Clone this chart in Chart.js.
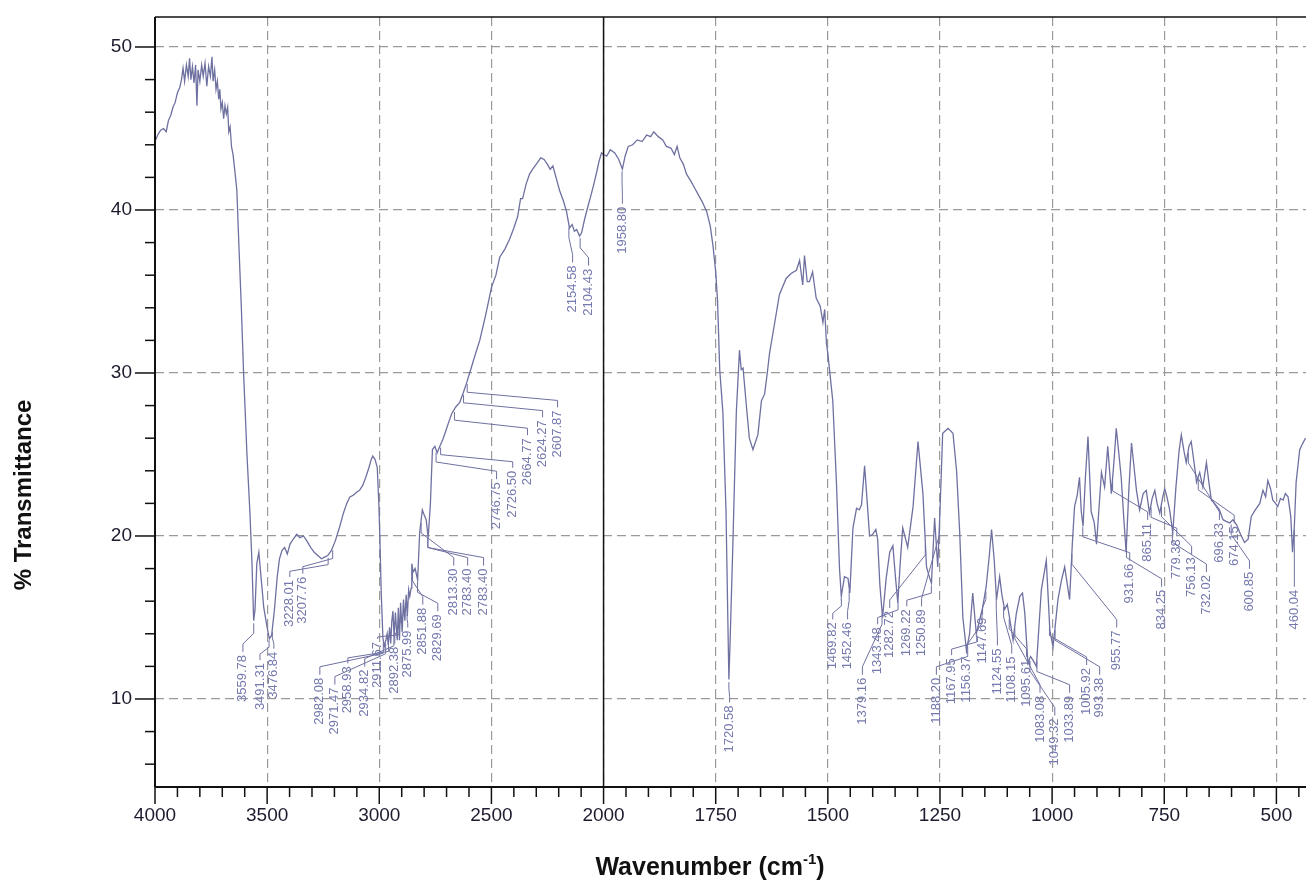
<!DOCTYPE html>
<html>
<head>
<meta charset="utf-8">
<script src="https://cdn.jsdelivr.net/npm/chart.js@4.4.0/dist/chart.umd.min.js"></script>
<style>
  html, body { margin: 0; padding: 0; background: #fff; }
  #irChart { display: block; }
</style>
</head>
<body>
<canvas id="irChart" width="1306" height="882"></canvas>
<script>
// spectrum (cm-1 / %T)
const wavenumbers = [
  4000, 3988, 3975, 3962, 3950, 3940, 3930, 3920, 3910, 3900, 3890, 3882, 3875, 3868, 3860, 3852, 3846, 3840, 3833, 3826,
  3819, 3813, 3808, 3800, 3792, 3785, 3777, 3769, 3761, 3753, 3746, 3741, 3734, 3728, 3722, 3716, 3711, 3706, 3700, 3694,
  3688, 3682, 3676, 3671, 3665, 3659, 3652, 3644, 3635, 3625, 3615, 3605, 3590, 3577, 3568, 3560, 3554, 3546, 3537, 3528,
  3515, 3500, 3490, 3480, 3468, 3455, 3445, 3434, 3422, 3410, 3398, 3384, 3368, 3354, 3338, 3323, 3306, 3290, 3274, 3258,
  3244, 3230, 3214, 3196, 3176, 3160, 3145, 3131, 3116, 3100, 3088, 3074, 3060, 3046, 3036, 3029, 3019, 3009, 3002, 2998,
  2991, 2984, 2978, 2971, 2965, 2960, 2954, 2949, 2944, 2939, 2934, 2928, 2920, 2915, 2910, 2905, 2898, 2892, 2886, 2880,
  2875, 2869, 2864, 2858, 2855, 2849, 2840, 2829, 2820, 2808, 2800, 2791, 2782, 2772, 2763, 2752, 2742, 2730, 2717, 2702,
  2690, 2677, 2660, 2641, 2625, 2608, 2597, 2575, 2552, 2525, 2499, 2480, 2463, 2440, 2419, 2400, 2383, 2370, 2361, 2345,
  2330, 2316, 2295, 2280, 2265, 2250, 2238, 2226, 2212, 2196, 2180, 2165, 2152, 2140, 2130, 2120, 2107, 2098, 2085, 2070,
  2058, 2045, 2031, 2020, 2009, 2000, 1993, 1985, 1975, 1966, 1958, 1952, 1945, 1935, 1925, 1914, 1904, 1895, 1888, 1878,
  1868, 1860, 1850, 1842, 1836, 1830, 1822, 1815, 1806, 1796, 1788, 1780, 1770, 1762, 1756, 1750, 1746, 1741, 1734, 1727,
  1723, 1720.6, 1718, 1712, 1704, 1697, 1693, 1689, 1682, 1675, 1667, 1661, 1656, 1648, 1641, 1635, 1630, 1622, 1608, 1593,
  1582, 1570, 1563, 1556, 1552, 1546, 1541, 1534, 1526, 1517, 1511, 1507, 1503, 1500, 1489, 1481, 1474, 1470, 1463, 1455,
  1451, 1444, 1436, 1430, 1425, 1418, 1412, 1407, 1400, 1393, 1389, 1384, 1378, 1370, 1362, 1355, 1349, 1344, 1338, 1333,
  1322, 1310, 1299, 1288, 1280, 1275, 1269, 1262, 1255, 1250, 1244, 1232, 1221, 1213, 1206, 1199, 1191, 1184, 1177, 1169,
  1162, 1155, 1147, 1140, 1135, 1129, 1124, 1117, 1112, 1106, 1100, 1095, 1087, 1080, 1072, 1066, 1061, 1054, 1048, 1043,
  1035, 1029, 1024, 1013, 1005, 998, 993, 987, 979, 972, 966, 961, 955, 950, 944, 939, 935, 931, 926, 920,
  913, 906, 901, 896, 890, 883, 876, 868, 862, 857, 851, 846, 840, 835, 829, 823, 818, 812, 805, 797,
  790, 783, 777, 771, 766, 760, 754, 749, 744, 738, 731, 724, 717, 712, 706, 701, 695, 690, 684, 678,
  671, 664, 656, 650, 645, 638, 627, 619, 612, 604, 597, 589, 580, 571, 563, 556, 547, 537, 530, 524,
  519, 513, 508, 502, 497, 491, 485, 480, 474, 468, 464, 460, 456, 448, 441, 435
];
const transmittance = [
  44.2, 44.6, 44.9, 45.0, 44.8, 45.5, 45.8, 46.3, 46.6, 47.2, 47.5, 48.0, 48.7, 47.9, 48.9, 48.2, 49.3, 48.0, 48.8, 47.8,
  48.9, 46.4, 48.6, 47.9, 48.9, 48.2, 49.0, 47.6, 48.8, 48.2, 49.4, 47.9, 48.6, 47.4, 47.9, 46.8, 47.4, 46.2, 46.6, 45.6,
  46.4, 45.9, 46.3, 44.8, 45.1, 43.9, 43.4, 42.4, 41.2, 37.5, 34.0, 30.0, 25.0, 21.5, 18.5, 14.8, 15.5, 18.3, 19.0, 17.6,
  15.6, 14.4, 13.7, 13.9, 15.4, 17.5, 18.6, 19.1, 19.3, 18.9, 19.5, 19.8, 20.1, 19.9, 20.0, 19.7, 19.3, 19.0, 18.8, 18.6,
  18.7, 18.8, 19.1, 19.7, 20.6, 21.4, 22.0, 22.4, 22.5, 22.7, 22.8, 23.1, 23.6, 24.2, 24.7, 24.9, 24.7, 24.2, 22.0, 20.2,
  16.4, 13.8, 13.2, 13.6, 14.0, 13.3, 14.4, 13.4, 14.8, 15.4, 13.8, 15.3, 13.6, 15.6, 13.6, 15.9, 14.1, 16.1, 14.8, 16.4,
  15.1, 16.7, 16.3, 16.8, 18.3, 17.8, 18.0, 17.3, 20.2, 21.6, 21.3, 21.0, 19.9, 22.0, 25.3, 25.5, 25.1, 25.5, 25.9, 26.5,
  27.0, 27.5, 27.9, 28.2, 28.8, 29.5, 30.0, 31.0, 32.0, 33.6, 35.3, 36.0, 37.1, 37.6, 38.2, 38.9, 39.6, 40.7, 40.7, 41.6,
  42.2, 42.5, 42.9, 43.2, 43.1, 42.8, 42.5, 42.7, 42.0, 41.2, 40.6, 39.9, 38.9, 39.1, 38.7, 38.8, 38.4, 38.6, 39.4, 40.2,
  40.8, 41.5, 42.3, 43.0, 43.5, 43.4, 43.3, 43.7, 43.5, 43.1, 42.5, 43.3, 43.9, 44.0, 44.3, 44.2, 44.6, 44.5, 44.8, 44.5,
  44.3, 43.9, 43.8, 43.4, 43.9, 43.2, 42.8, 42.2, 41.8, 41.3, 40.9, 40.5, 39.9, 39.0, 37.8, 36.2, 34.5, 30.2, 27.6, 21.5,
  15.0, 11.2, 13.4, 19.2, 27.6, 31.4, 30.2, 30.3, 28.1, 26.0, 25.3, 25.8, 26.2, 28.3, 28.7, 30.0, 31.2, 32.5, 34.8, 35.8,
  36.1, 36.3, 36.9, 35.4, 37.2, 35.6, 35.6, 36.2, 34.6, 34.1, 33.1, 33.9, 31.8, 31.2, 28.3, 23.4, 18.0, 16.3, 17.5, 17.4,
  16.5, 20.5, 21.7, 21.6, 21.9, 24.3, 22.0, 20.0, 20.1, 20.4, 19.8, 17.0, 15.0, 17.4, 19.0, 19.4, 17.4, 15.9, 18.6, 20.5,
  19.3, 21.8, 25.8, 22.6, 18.1, 17.6, 17.1, 21.1, 18.1, 21.5, 26.3, 26.6, 26.3, 24.0, 20.2, 15.0, 13.0, 14.0, 16.5, 14.0,
  14.8, 15.6, 16.9, 18.8, 20.4, 18.5, 16.1, 17.5, 16.4, 15.5, 15.8, 15.0, 13.6, 15.2, 16.3, 16.5, 15.3, 12.2, 12.6, 12.4,
  12.0, 14.6, 16.7, 18.5, 14.2, 13.2, 14.5, 16.1, 17.3, 18.1, 17.0, 16.1, 19.5, 21.8, 22.5, 23.6, 21.5, 20.6, 23.5, 26.1,
  21.5, 20.8, 19.5, 21.5, 23.9, 23.0, 25.5, 22.6, 24.6, 26.6, 25.0, 23.6, 21.0, 19.0, 22.8, 25.7, 24.4, 22.8, 21.6, 22.6,
  22.8, 21.4, 22.3, 22.8, 22.0, 21.4, 22.3, 22.9, 22.4, 21.6, 20.2, 23.0, 25.2, 26.2, 25.2, 24.5, 25.5, 25.8, 24.6, 23.3,
  23.9, 23.0, 24.5, 23.2, 22.2, 22.0, 21.6, 21.0, 20.9, 20.8, 21.0, 20.7, 20.1, 19.6, 19.8, 21.2, 21.6, 22.0, 22.8, 22.4,
  23.4, 22.9, 22.2, 22.0, 21.8, 22.3, 22.2, 22.6, 22.4, 21.2, 19.0, 20.6, 23.3, 25.3, 25.7, 26.0
];

// picked peaks
const peakWavenumbers = [
  3559.78, 3491.31, 3476.84, 3228.01, 3207.76, 2982.08, 2971.47, 2958.93, 2934.82, 2911.67,
  2892.38, 2875.99, 2851.88, 2829.69, 2813.30, 2783.40, 2783.40, 2746.75, 2726.50, 2664.77,
  2624.27, 2607.87, 2154.58, 2104.43, 1958.80, 1720.58, 1469.82, 1452.46, 1379.16, 1343.48,
  1282.72, 1269.22, 1250.89, 1188.20, 1167.95, 1156.37, 1147.69, 1124.55, 1108.15, 1095.61,
  1083.08, 1049.32, 1033.89, 1005.92, 993.38, 955.77, 931.66, 865.11, 834.25, 779.38,
  756.13, 732.02, 696.33, 674.15, 600.85, 460.04
];

const xTickValues = [4000, 3500, 3000, 2500, 2000, 1750, 1500, 1250, 1000, 750, 500];
const yTickValues = [10, 20, 30, 40, 50];

// where each peak label is written (cm-1 of the text, %T of its upper end)
const labelWavenumbers = [
  3608, 3532, 3470, 3399, 3341, 3265, 3198, 3140, 3065, 3007,
  2931, 2873, 2806, 2739, 2668, 2606, 2535, 2477, 2405, 2339,
  2272, 2205, 2138, 2067, 1958, 1719, 1489, 1456, 1423, 1389,
  1362, 1324, 1291, 1258, 1224, 1191, 1155, 1122, 1090, 1057,
  1027, 994, 961, 923, 894, 856, 827, 787, 756, 722,
  689, 656, 627, 594, 560, 460
];
const labelTops = [
  12.7, 12.2, 12.9, 17.3, 17.5, 11.3, 10.7, 12.0, 11.8, 13.5,
  13.2, 14.2, 15.6, 15.2, 18.0, 18.0, 18.0, 23.3, 24.0, 26.0,
  27.1, 27.7, 36.6, 36.4, 40.2, 9.6, 14.7, 14.7, 11.3, 14.4,
  15.4, 15.5, 15.5, 11.3, 12.5, 12.6, 15.0, 13.1, 12.6, 12.4,
  10.2, 8.8, 10.2, 11.9, 11.3, 14.2, 18.3, 20.8, 16.7, 19.8,
  18.7, 17.6, 20.8, 20.6, 17.8, 16.7
];

const FONT = "'Liberation Sans', Arial, sans-serif";
const lineColor = '#6e70a0';
const labelColor = '#7478ad';

// the axis is compressed 2:1 above 2000 cm-1
function toAxis(w) {
  return w >= 2000 ? (4000 - w) / 2 : 1000 + (2000 - w);
}
function fromAxis(u) {
  return u <= 1000 ? 4000 - 2 * u : 2000 - (u - 1000);
}

function spectrumAt(w) {
  for (let i = 0; i < wavenumbers.length - 1; i++) {
    const a = wavenumbers[i], b = wavenumbers[i + 1];
    if (w <= a && w >= b) {
      const f = (a - w) / (a - b);
      return transmittance[i] + f * (transmittance[i + 1] - transmittance[i]);
    }
  }
  return transmittance[transmittance.length - 1];
}

function line(ctx, x1, y1, x2, y2) {
  ctx.beginPath();
  ctx.moveTo(x1, y1);
  ctx.lineTo(x2, y2);
  ctx.stroke();
}

const irDecor = {
  id: 'irDecor',
  afterDraw(chart) {
    const { ctx, chartArea: a, scales: { x, y } } = chart;
    ctx.save();

    // frame
    ctx.strokeStyle = '#111';
    ctx.lineWidth = 1.5;
    line(ctx, a.left, a.top, a.right, a.top);
    const p2000 = x.getPixelForValue(toAxis(2000));
    line(ctx, p2000, a.top, p2000, a.bottom);
    ctx.lineWidth = 2;
    line(ctx, a.left, a.top, a.left, a.bottom);
    line(ctx, a.left, a.bottom, a.right, a.bottom);

    // tick marks
    ctx.lineWidth = 1.5;
    for (let v = 6; v <= 50; v += 2) {
      const py = y.getPixelForValue(v);
      const len = yTickValues.includes(v) ? 20 : 10;
      line(ctx, a.left - len, py, a.left, py);
    }
    for (let w = 4000; w >= 450; w -= (w > 2000 ? 100 : 50)) {
      const px = x.getPixelForValue(toAxis(w));
      const len = xTickValues.includes(w) ? 17 : 10;
      line(ctx, px, a.bottom, px, a.bottom + len);
    }

    // peak labels with leaders
    ctx.beginPath();
    ctx.rect(a.left, a.top, a.right - a.left, a.bottom - a.top);
    ctx.clip();
    ctx.strokeStyle = lineColor;
    ctx.lineWidth = 1;
    ctx.fillStyle = labelColor;
    ctx.font = '13px ' + FONT;
    peakWavenumbers.forEach((w, i) => {
      const px = x.getPixelForValue(toAxis(w));
      const py = y.getPixelForValue(spectrumAt(w)) + 3;
      const lx = x.getPixelForValue(toAxis(labelWavenumbers[i]));
      const ly = y.getPixelForValue(labelTops[i]);
      const ey = ly - 3;
      const drop = ey - py;
      if (drop > 0) {
        const k1 = py + Math.min(10, drop * 0.35);
        const k2 = ey - Math.min(8, drop * 0.3);
        ctx.beginPath();
        ctx.moveTo(px, py);
        ctx.lineTo(px, k1);
        ctx.lineTo(lx, k2);
        ctx.lineTo(lx, ey);
        ctx.stroke();
      }
      ctx.save();
      ctx.translate(lx, ly);
      ctx.rotate(-Math.PI / 2);
      ctx.textAlign = 'right';
      ctx.textBaseline = 'middle';
      ctx.fillText(w.toFixed(2), 0, 0);
      ctx.restore();
    });
    ctx.restore();

    // axis titles
    ctx.save();
    ctx.fillStyle = '#111';
    ctx.font = 'bold 24px ' + FONT;
    ctx.translate(24, 495);
    ctx.rotate(-Math.PI / 2);
    ctx.textAlign = 'center';
    ctx.textBaseline = 'middle';
    ctx.fillText('% Transmittance', 0, 0);
    ctx.restore();

    ctx.save();
    ctx.fillStyle = '#111';
    const main = 'Wavenumber (cm';
    ctx.font = 'bold 25px ' + FONT;
    const w1 = ctx.measureText(main).width;
    const w3 = ctx.measureText(')').width;
    ctx.font = 'bold 15px ' + FONT;
    const w2 = ctx.measureText('-1').width;
    let sx = 710 - (w1 + w2 + w3) / 2;
    ctx.textBaseline = 'alphabetic';
    ctx.font = 'bold 25px ' + FONT;
    ctx.fillText(main, sx, 875);
    ctx.font = 'bold 15px ' + FONT;
    ctx.fillText('-1', sx + w1, 864);
    ctx.font = 'bold 25px ' + FONT;
    ctx.fillText(')', sx + w1 + w2, 875);
    ctx.restore();
  }
};

new Chart(document.getElementById('irChart'), {
  type: 'line',
  data: {
    datasets: [{
      data: wavenumbers.map((w, i) => ({ x: toAxis(w), y: transmittance[i] })),
      borderColor: lineColor,
      borderWidth: 1.3,
      pointRadius: 0,
      tension: 0,
      fill: false
    }]
  },
  options: {
    responsive: false,
    animation: false,
    devicePixelRatio: 1,
    layout: { padding: { top: 17, left: 0, right: 0, bottom: 0 } },
    plugins: { legend: { display: false }, tooltip: { enabled: false } },
    scales: {
      x: {
        type: 'linear',
        min: 0,
        max: 2566,
        afterBuildTicks: (s) => { s.ticks = xTickValues.map(w => ({ value: toAxis(w) })); },
        afterFit: (s) => { s.height = 95; s.paddingLeft = 0; s.paddingRight = 0; },
        grid: { color: '#9a9a9a', lineWidth: 1.2, drawTicks: false },
        border: { display: false, dash: [9, 5] },
        ticks: {
          callback: (v) => String(fromAxis(v)),
          color: '#1c1c2e',
          font: { family: FONT, size: 19 },
          padding: 17,
          maxRotation: 0,
          autoSkip: false
        }
      },
      y: {
        min: 4.6,
        max: 51.84,
        afterBuildTicks: (s) => { s.ticks = yTickValues.map(v => ({ value: v })); },
        afterFit: (s) => { s.width = 155; s.paddingTop = 0; s.paddingBottom = 0; },
        grid: { color: '#9a9a9a', lineWidth: 1.2, drawTicks: false },
        border: { display: false, dash: [9, 5] },
        ticks: {
          color: '#1c1c2e',
          font: { family: FONT, size: 19 },
          padding: 23
        }
      }
    }
  },
  plugins: [irDecor]
});
</script>
</body>
</html>
